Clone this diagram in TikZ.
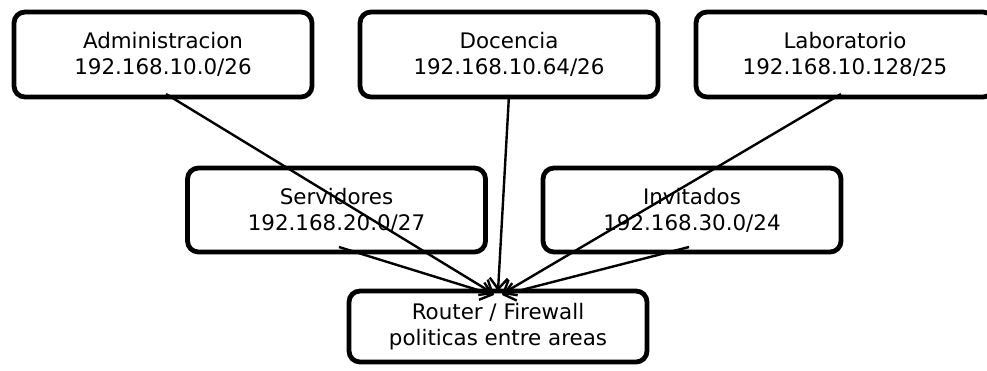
\documentclass[tikz,border=0pt]{standalone}
\usepackage{fontspec}
\setmainfont{DejaVu Sans}
\usetikzlibrary{arrows.meta}
\begin{document}
\begin{tikzpicture}[x=1pt,y=-1pt,
  box/.style={draw=black,line width=4.8pt,rounded corners=11pt,minimum width=298pt,align=center,font=\fontsize{21.4}{26}\selectfont,fill=white,inner sep=0pt},
  conn/.style={line width=2.4pt,-{Straight Barb[length=11pt,width=18pt,line width=2.4pt]}}]
\useasboundingbox (0,0) rectangle (987,370);
\node[box,minimum height=85pt] (adm) at (163,54.5) {Administracion\\192.168.10.0/26};
\node[box,minimum height=85pt] (doc) at (509,54.5) {Docencia\\192.168.10.64/26};
\node[box,minimum height=85pt] (lab) at (845,54.5) {Laboratorio\\192.168.10.128/25};
\node[box,minimum height=84pt] (srv) at (336.5,210) {Servidores\\192.168.20.0/27};
\node[box,minimum height=84pt] (inv) at (692,210) {Invitados\\192.168.30.0/24};
\node[box,minimum height=71pt] (rtr) at (498,326.5) {Router / Firewall\\politicas entre areas};
\coordinate (admS) at (166,94);
\coordinate (docS) at (509,95);
\coordinate (labS) at (841,94);
\coordinate (srvS) at (339,247);
\coordinate (invS) at (689,247);
\coordinate (e1) at (494,294);
\coordinate (e2) at (498,291);
\coordinate (e3) at (502,294);
\coordinate (e4) at (494,295);
\coordinate (e5) at (502,295);
\draw[conn] (admS) -- (e1);
\draw[conn] (docS) -- (e2);
\draw[conn] (labS) -- (e3);
\draw[conn] (srvS) -- (e4);
\draw[conn] (invS) -- (e5);
\end{tikzpicture}
\end{document}
